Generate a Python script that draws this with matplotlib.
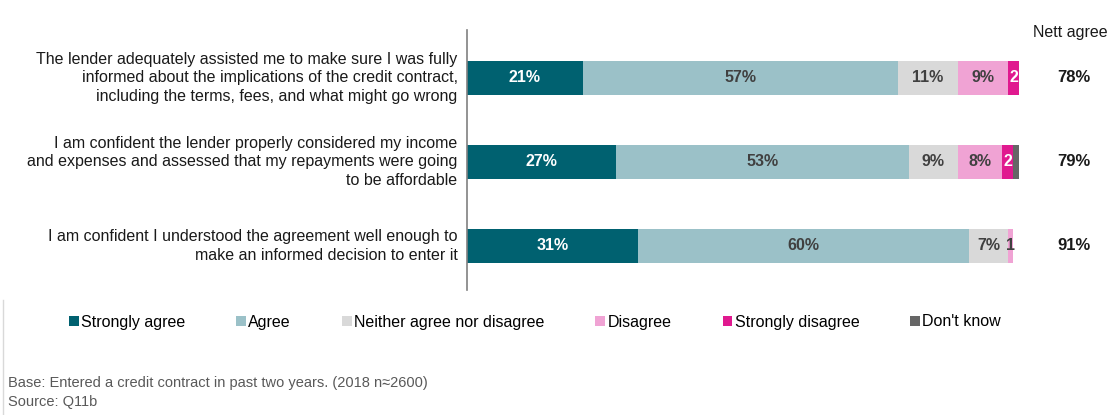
import matplotlib.pyplot as plt
from matplotlib.patches import Patch

plt.rcParams['font.family'] = ['Liberation Sans Narrow', 'Liberation Sans', 'DejaVu Sans']

statements = [
    "The lender adequately assisted me to make sure I was fully\n"
    "informed about the implications of the credit contract,\n"
    "including the terms, fees, and what might go wrong",
    "I am confident the lender properly considered my income\n"
    "and expenses and assessed that my repayments were going\n"
    "to be affordable",
    "I am confident I understood the agreement well enough to\n"
    "make an informed decision to enter it",
]
categories = ["Strongly agree", "Agree", "Neither agree nor disagree",
              "Disagree", "Strongly disagree", "Don't know"]
strongly_agree = [21, 27, 31]
agree = [57, 53, 60]
neither = [11, 9, 7]
disagree = [9, 8, 1]
strongly_disagree = [2, 2, 0]
dont_know = [0, 1, 0]
nett_agree = [78, 79, 91]

series = [strongly_agree, agree, neither, disagree, strongly_disagree, dont_know]
colors = ["#006170", "#9BC1C8", "#D9D9D9", "#F0A3D4", "#E0198F", "#666666"]
text_colors = ["white", "#404040", "#404040", "#404040", "white", None]

fig = plt.figure(figsize=(11.17, 4.15), dpi=100)
ax = fig.add_axes([467 / 1117, 1 - 290 / 415, 552 / 1117, 260 / 415])

ypos = range(len(statements))
left = [0] * len(statements)
for vals, col, tcol in zip(series, colors, text_colors):
    ax.barh(ypos, vals, left=left, height=0.405, color=col, edgecolor="none")
    for i, v in enumerate(vals):
        if v <= 0 or tcol is None:
            continue
        # small segments only get the number, no percent sign
        label = f"{v}%" if v >= 5 else f"{v}"
        ax.text(left[i] + v / 2, i, label, ha="center", va="center",
                color=tcol, fontsize=11.5, fontweight="bold")
    left = [l + v for l, v in zip(left, vals)]

ax.set_xlim(0, 100)
ax.set_ylim(2.524, -0.571)
ax.set_xticks([])
ax.set_yticks([])
for side in ["top", "right", "bottom"]:
    ax.spines[side].set_visible(False)
ax.spines["left"].set_color("#808080")
ax.spines["left"].set_linewidth(1.2)

for i, s in enumerate(statements):
    ax.text(-1.7, i, s, ha="right", va="center", fontsize=11.5,
            color="#1a1a1a", linespacing=1.3)

# nett agree column
fig.text(1070 / 1117, 1 - 32 / 415, "Nett agree", ha="center", va="center",
         fontsize=11.5, color="#1a1a1a")
for i, n in enumerate(nett_agree):
    ax.text(110, i, f"{n}%", ha="center", va="center", fontsize=12,
            fontweight="bold", color="#1a1a1a", clip_on=False)

handles = [Patch(facecolor=c, edgecolor="none") for c in colors]
fig.legend(handles, categories, loc="center", ncol=6,
           bbox_to_anchor=(535 / 1117, 1 - 322 / 415), frameon=False,
           fontsize=11.5, handlelength=0.6, handleheight=0.6,
           handletextpad=0.15, columnspacing=3.2)

fig.text(8 / 1117, 1 - 383 / 415, "Base: Entered a credit contract in past two years. (2018 n\u22482600)",
         ha="left", va="center", fontsize=10.5, color="#595959")
fig.text(8 / 1117, 1 - 402 / 415, "Source: Q11b", ha="left", va="center",
         fontsize=10.5, color="#595959")

fig.add_artist(plt.Line2D([3 / 1117, 3 / 1117], [0, 1 - 300 / 415],
                          transform=fig.transFigure, color="#D9D9D9", lw=1))

fig.savefig("out.png", dpi=100)
